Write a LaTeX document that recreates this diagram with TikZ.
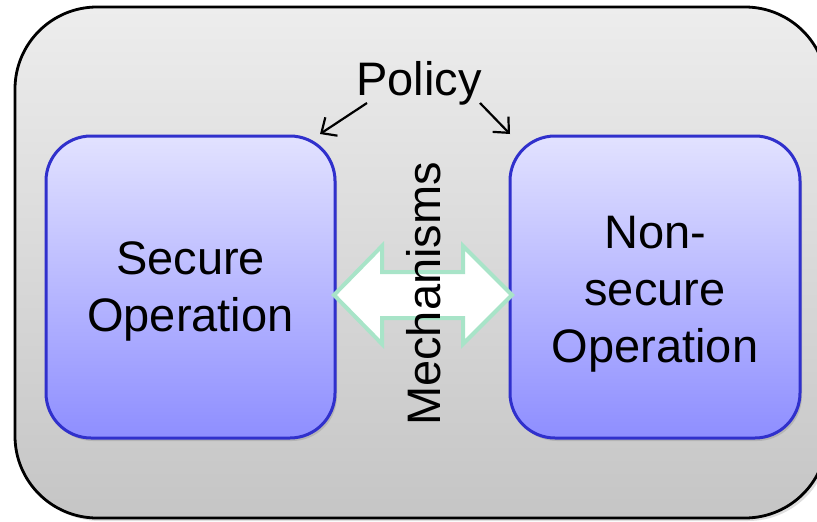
\documentclass[tikz,border=0pt]{standalone}
\usepackage{fontspec}
\setmainfont{Liberation Sans}
\usetikzlibrary{arrows.meta,shadows,shapes.misc}
\definecolor{outertop}{HTML}{EDEDED}
\definecolor{outerbot}{HTML}{C5C5C5}
\definecolor{boxtop}{HTML}{E2E2FF}
\definecolor{boxbot}{HTML}{8E8EFF}
\definecolor{boxline}{HTML}{3030CC}
\definecolor{arrline}{HTML}{A8E4C8}
\tikzset{
  bigtext/.style={font=\fontsize{47}{57}\selectfont, text=black, inner sep=0pt},
  outerbox/.style={draw=black, line width=2.8pt, rounded corners=82pt,
    top color=outertop, bottom color=outerbot,
    drop shadow={shadow xshift=3pt, shadow yshift=-3pt, opacity=0.25}},
  opbox/.style={draw=boxline, line width=3pt, rounded corners=45pt,
    top color=boxtop, bottom color=boxbot,
    drop shadow={shadow xshift=2pt, shadow yshift=-3pt, opacity=0.3}},
  polarrow/.style={draw=black, line width=2.2pt, -{Straight Barb[length=12pt,width=22pt,line width=2.2pt]}},
  dblarrow/.style={draw=arrline, line width=4pt, fill=white, line join=miter}
}
\begin{document}
\begin{tikzpicture}[x=1pt,y=-1pt]
\useasboundingbox (0,0) rectangle (817,522);
% outer container
\path[outerbox] (15,7) rectangle (827,518);
\coordinate (outer) at (421,262);
% operation boxes
\path[opbox] (46,136) rectangle (335,438);
\path[opbox] (510,136) rectangle (800,438);
\coordinate (secbox) at (190.5,287);
\coordinate (nsbox) at (655,287);
% double arrow
\coordinate (ltip) at (334,295);
\coordinate (rtip) at (512,295);
\draw[dblarrow] (ltip) -- (382,246) -- (382,272) -- (463,272) -- (463,246)
  -- (rtip) -- (463,344) -- (463,318) -- (382,318) -- (382,344) -- cycle;
% texts
\node[bigtext, anchor=base] (policy) at (419,95) {Policy};
\node[bigtext, align=center] (sec) at (190.5,291) {Secure\\Operation};
\node[bigtext, align=center] (nonsec) at (655,294) {Non-\\secure\\Operation};
\node[bigtext, anchor=base, rotate=90] (mech) at (440,294) {Mechanisms};
% policy arrows
\coordinate (pa1) at (367,103);
\coordinate (pb1) at (320,134);
\coordinate (pa2) at (480,103);
\coordinate (pb2) at (510,134);
\draw[polarrow] (pa1) -- (pb1);
\draw[polarrow] (pa2) -- (pb2);
\end{tikzpicture}
\end{document}
